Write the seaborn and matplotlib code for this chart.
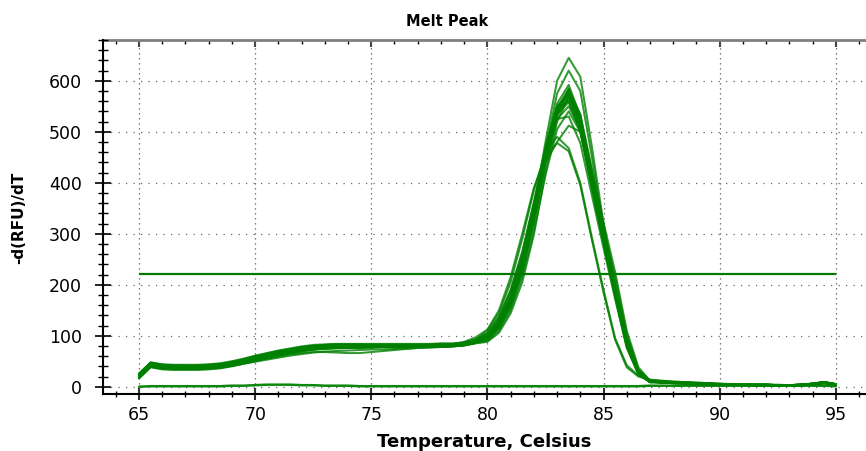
import numpy as np
import pandas as pd
import matplotlib
matplotlib.use("Agg")
import matplotlib.pyplot as plt
import seaborn as sns
from matplotlib.ticker import MultipleLocator

# ---------------- data ----------------
temperature = np.arange(65.0, 95.01, 0.5)   # 61 readings, 0.5 C step

well_01 = [22, 45, 40, 39, 39, 39, 40, 42, 46, 51, 57, 62, 67, 71, 75, 78, 79, 80, 80, 80, 80, 80, 80, 80, 80, 80, 81, 81, 83, 88,
           97, 122, 168, 238, 335, 450, 540, 575, 515, 400, 290, 185, 85, 28, 10,
           9, 8, 7, 6, 5, 5, 4, 4, 3, 3, 3, 3, 3, 5, 8, 4]
well_02 = [25, 48, 44, 43, 43, 43, 44, 46, 50, 55, 61, 66, 71, 75, 79, 82, 83, 84, 84, 84, 84, 84, 84, 84, 84, 84, 85, 85, 87, 92,
           100, 128, 175, 248, 348, 465, 555, 592, 530, 410, 295, 188, 86, 27, 9,
           10, 9, 8, 7, 6, 5, 5, 4, 4, 4, 3, 3, 4, 6, 9, 5]
well_03 = [18, 40, 36, 35, 35, 35, 36, 38, 42, 47, 53, 58, 63, 67, 71, 74, 75, 76, 76, 76, 77, 77, 77, 77, 78, 78, 78, 79, 81, 86,
           94, 118, 162, 232, 330, 448, 545, 585, 528, 412, 300, 195, 92, 30, 10,
           9, 8, 7, 6, 5, 5, 4, 4, 3, 3, 3, 3, 3, 5, 8, 4]
well_04 = [20, 43, 38, 37, 37, 37, 38, 40, 44, 49, 55, 61, 66, 70, 74, 77, 79, 80, 81, 81, 81, 81, 81, 80, 80, 80, 80, 81, 82, 86,
           99, 126, 174, 246, 345, 460, 548, 580, 518, 402, 288, 180, 80, 26, 9,
           8, 7, 6, 5, 5, 4, 4, 3, 3, 3, 2, 2, 3, 4, 7, 3]
well_05 = [24, 46, 42, 41, 40, 40, 41, 43, 47, 52, 58, 63, 68, 72, 76, 79, 81, 82, 82, 82, 81, 81, 81, 81, 81, 82, 82, 83, 85, 90,
           92, 114, 156, 224, 320, 436, 530, 570, 524, 418, 310, 215, 102, 34, 11,
           10, 9, 8, 7, 6, 5, 5, 4, 4, 4, 3, 3, 4, 6, 9, 5]
well_06 = [16, 38, 34, 33, 33, 33, 34, 36, 40, 45, 51, 56, 61, 65, 69, 72, 74, 75, 76, 77, 77, 78, 78, 78, 79, 79, 79, 80, 82, 87,
           102, 132, 182, 256, 355, 465, 545, 560, 500, 388, 280, 178, 80, 26, 9,
           9, 8, 7, 6, 5, 5, 4, 4, 3, 3, 3, 3, 3, 5, 8, 4]
well_07 = [23, 44, 41, 40, 40, 40, 41, 43, 47, 52, 58, 63, 68, 72, 76, 78, 80, 81, 81, 80, 80, 79, 79, 79, 79, 80, 80, 81, 83, 89,
           96, 120, 164, 234, 330, 440, 525, 550, 505, 395, 288, 186, 86, 29, 10,
           8, 7, 6, 5, 5, 4, 4, 3, 3, 3, 2, 2, 3, 4, 7, 3]
well_08 = [21, 44, 39, 38, 38, 38, 39, 41, 45, 50, 56, 61, 66, 70, 74, 77, 78, 79, 79, 79, 79, 79, 79, 79, 79, 80, 80, 80, 82, 86,
           90, 110, 150, 215, 305, 415, 505, 540, 500, 398, 292, 190, 88, 30, 11,
           10, 9, 8, 7, 6, 5, 5, 4, 4, 4, 3, 3, 4, 6, 9, 5]
well_09 = [26, 47, 43, 42, 42, 42, 43, 45, 49, 54, 60, 65, 70, 74, 78, 80, 82, 83, 83, 83, 83, 83, 83, 83, 83, 83, 84, 84, 86, 93,
           105, 138, 190, 265, 360, 462, 525, 530, 478, 375, 272, 172, 78, 25, 9,
           9, 8, 7, 6, 5, 5, 4, 4, 3, 3, 3, 3, 3, 5, 8, 4]
well_10 = [21, 42, 38, 37, 37, 37, 38, 39, 42, 46, 50, 55, 59, 63, 66, 68, 68, 67, 66, 66, 68, 70, 72, 74, 76, 77, 78, 79, 82, 88,
           100, 128, 176, 248, 340, 440, 480, 512, 500, 400, 290, 182, 84, 28, 10,
           8, 7, 6, 5, 5, 4, 4, 3, 3, 3, 2, 2, 3, 4, 7, 3]
well_11 = [19, 41, 37, 36, 36, 36, 37, 39, 43, 48, 54, 59, 64, 68, 72, 75, 77, 78, 78, 78, 78, 78, 78, 78, 79, 79, 79, 80, 82, 87,
           95, 119, 164, 234, 332, 448, 542, 577, 522, 406, 294, 188, 88, 29, 10,
           10, 9, 8, 7, 6, 5, 5, 4, 4, 4, 3, 3, 4, 6, 9, 5]
well_12 = [22, 44, 40, 39, 38, 38, 39, 41, 45, 50, 56, 62, 67, 71, 75, 78, 80, 81, 81, 81, 80, 80, 80, 80, 80, 80, 81, 82, 84, 89,
           98, 124, 170, 242, 340, 452, 538, 565, 510, 396, 286, 182, 82, 27, 9,
           9, 8, 7, 6, 5, 5, 4, 4, 3, 3, 3, 3, 3, 5, 8, 4]
well_13 = [23, 45, 41, 40, 40, 40, 41, 43, 47, 52, 58, 63, 68, 72, 76, 79, 80, 81, 81, 81, 81, 81, 81, 81, 81, 81, 82, 82, 84, 89,
           98, 125, 172, 245, 350, 480, 600, 645, 608, 470, 320, 195, 88, 28, 10,
           10, 9, 8, 7, 6, 5, 5, 4, 4, 4, 3, 3, 4, 6, 9, 5]
well_14 = [17, 39, 35, 34, 34, 34, 35, 37, 41, 46, 52, 57, 62, 66, 70, 73, 75, 76, 77, 77, 78, 78, 78, 78, 79, 79, 80, 80, 82, 87,
           95, 120, 165, 238, 342, 465, 575, 620, 580, 450, 310, 192, 86, 29, 10,
           9, 8, 7, 6, 5, 5, 4, 4, 3, 3, 3, 3, 3, 5, 8, 4]
well_15 = [20, 41, 37, 36, 36, 36, 37, 38, 41, 45, 49, 53, 57, 61, 64, 67, 69, 70, 71, 72, 73, 73, 74, 75, 76, 77, 78, 80, 84, 92,
           110, 145, 205, 290, 385, 460, 490, 468, 400, 292, 190, 95, 42, 22, 14,
           12, 10, 9, 8, 7, 6, 5, 5, 4, 4, 4, 3, 4, 5, 8, 4]
well_16 = [22, 43, 39, 38, 38, 38, 39, 41, 44, 48, 53, 58, 63, 67, 71, 74, 76, 77, 78, 78, 78, 79, 79, 79, 80, 80, 81, 83, 88, 97,
           112, 150, 215, 300, 390, 450, 478, 462, 395, 288, 185, 92, 38, 20, 13,
           11, 10, 9, 8, 7, 6, 5, 5, 4, 4, 3, 3, 4, 5, 7, 4]
well_17 = [19, 42, 38, 37, 37, 37, 38, 40, 43, 48, 54, 59, 64, 68, 72, 75, 77, 78, 79, 79, 79, 79, 79, 79, 79, 79, 80, 80, 81, 85,
           88, 106, 144, 205, 298, 420, 520, 568, 532, 428, 322, 225, 110, 38, 12,
           10, 9, 8, 7, 6, 5, 5, 4, 4, 4, 3, 3, 4, 6, 9, 5]
well_18 = [25, 47, 43, 42, 41, 41, 42, 44, 48, 53, 59, 64, 69, 73, 77, 80, 82, 83, 83, 83, 82, 82, 82, 82, 82, 82, 83, 83, 86, 92,
           104, 136, 188, 262, 362, 470, 550, 572, 512, 398, 284, 176, 76, 24, 9,
           9, 8, 7, 6, 5, 5, 4, 4, 3, 3, 3, 3, 3, 5, 8, 4]
well_19 = [18, 40, 36, 35, 35, 35, 36, 38, 42, 47, 53, 58, 63, 67, 71, 74, 76, 77, 77, 77, 77, 78, 78, 78, 78, 78, 79, 79, 81, 86,
           93, 116, 158, 226, 324, 440, 535, 583, 535, 420, 308, 205, 98, 33, 11,
           8, 7, 6, 5, 5, 4, 4, 3, 3, 3, 2, 2, 3, 4, 7, 3]
well_20 = [23, 45, 41, 40, 39, 39, 40, 42, 46, 51, 57, 62, 67, 71, 75, 78, 80, 80, 80, 80, 80, 80, 80, 80, 80, 80, 81, 81, 83, 88,
           97, 123, 170, 240, 338, 452, 535, 558, 505, 392, 282, 180, 82, 27, 10,
           10, 9, 8, 7, 6, 5, 5, 4, 4, 4, 3, 3, 4, 6, 9, 5]
negative_control = [0, 1, 1, 1, 1, 1, 1, 1, 2, 2, 3, 4, 4, 4, 3, 3, 2, 2, 2, 1, 1, 1, 1, 1, 1, 1, 1, 1, 1, 1,
                    1, 1, 1, 1, 1, 1, 1, 1, 1, 1, 1, 1, 1, 1, 2,
                    2, 2, 2, 2, 2, 2, 2, 2, 2, 2, 2, 2, 2, 2, 2, 1]

wells = [well_01, well_02, well_03, well_04, well_05, well_06, well_07, well_08,
         well_09, well_10, well_11, well_12, well_13, well_14, well_15, well_16,
         well_17, well_18, well_19, well_20]
threshold = 221

title_text = "Melt Peak"
x_label = "Temperature, Celsius"
y_label = "-d(RFU)/dT"

# ---------------- long-form tables ----------------
rows = []
for i, w in enumerate(wells):
    for t, v in zip(temperature, w):
        rows.append({"Well": i, "Temperature": t, "Value": v})
df = pd.DataFrame(rows)
df_nc = pd.DataFrame({"Temperature": temperature, "Value": negative_control})

# ---------------- figure ----------------
sns.set_style("white")
plt.rcParams["font.family"] = ["DejaVu Sans"]
plt.rcParams["text.color"] = "black"
plt.rcParams["xtick.labelcolor"] = "black"
plt.rcParams["ytick.labelcolor"] = "black"

W, H = 866, 451
fig = plt.figure(figsize=(W / 100, H / 100), dpi=100)
left, right, top, bottom = 103, 866, 40, 393.5
ax = fig.add_axes([left / W, 1 - bottom / H, (right - left) / W, (bottom - top) / H])

GREEN = "#008000"
sns.lineplot(data=df, x="Temperature", y="Value", units="Well", estimator=None,
             color=GREEN, lw=1.45, alpha=0.8, ax=ax, legend=False)
sns.lineplot(data=df_nc, x="Temperature", y="Value", color=GREEN, lw=1.8,
             alpha=0.95, ax=ax, legend=False)
ax.hlines(threshold, temperature[0], temperature[-1], color="#007a00", lw=1.6, zorder=3)

ax.set_xlim(63.45, 96.3)
ax.set_ylim(-13.3, 680)

ax.xaxis.set_major_locator(MultipleLocator(5))
ax.xaxis.set_minor_locator(MultipleLocator(1))
ax.yaxis.set_major_locator(MultipleLocator(100))
ax.yaxis.set_minor_locator(MultipleLocator(20))

ax.grid(which="major", axis="x", color="#555555", ls=(0, (1, 3)), lw=0.9)
ax.grid(which="major", axis="y", color="#666666", ls=(0, (1, 5)), lw=0.9)

ax.tick_params(axis="y", which="major", direction="inout", length=12, width=1.2,
               color="black", labelsize=12.5, pad=9, left=True, right=False)
ax.tick_params(axis="y", which="minor", direction="inout", length=6.5, width=1.0,
               color="black", left=True, right=False)
ax.tick_params(axis="x", which="major", direction="inout", length=8, width=1.5,
               color="#333333", labelsize=12.5, pad=5, bottom=True, top=False)
ax.tick_params(axis="x", which="minor", direction="inout", length=5, width=1.0,
               color="black", bottom=True, top=False)

for side in ("top", "right"):
    ax.spines[side].set_visible(False)
for side in ("left", "bottom"):
    ax.spines[side].set_visible(True)
    ax.spines[side].set_color("black")
    ax.spines[side].set_linewidth(1.5)

sec = ax.secondary_xaxis("top")
sec.xaxis.set_major_locator(MultipleLocator(5))
sec.xaxis.set_minor_locator(MultipleLocator(1))
sec.tick_params(axis="x", which="major", direction="in", length=5, width=1.5,
                color="#444444", labeltop=False)
sec.tick_params(axis="x", which="minor", direction="in", length=3, width=1.0,
                color="black", labeltop=False)
sec.spines["top"].set_color("#808080")
sec.spines["top"].set_linewidth(2.0)

ax.set_xlabel("")
ax.set_ylabel("")
fig.text((left + right) / 2 / W, 1 - 447 / H, x_label, ha="center", va="baseline",
         fontsize=13, fontweight="bold", color="black")
fig.text(18.8 / W, 1 - 217.5 / H, y_label, ha="center", va="center", rotation=90,
         fontsize=11, fontweight="bold", color="black")
fig.text(447 / W, 1 - 21.5 / H, title_text, ha="center", va="center",
         fontsize=10.5, fontweight="bold", color="black")

fig.savefig("out.png", dpi=100)
